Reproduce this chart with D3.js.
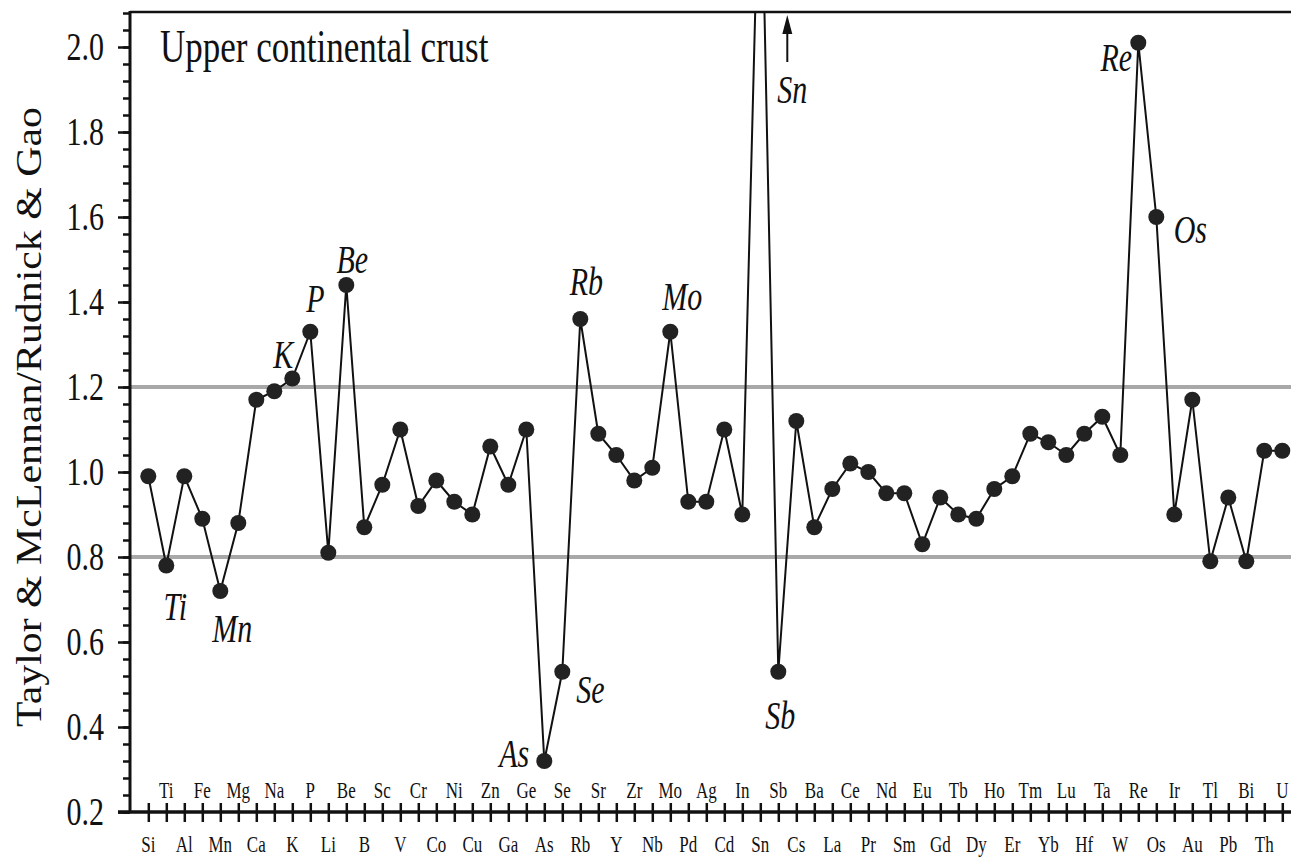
<!DOCTYPE html>
<html><head><meta charset="utf-8">
<script src="https://cdn.jsdelivr.net/npm/d3@7"></script>
<style>html,body{margin:0;padding:0;background:#fff;}svg{display:block;}</style>
</head><body>
<svg id="c" width="1291" height="862"></svg>
<script>
const elements = ["Si","Ti","Al","Fe","Mn","Mg","Ca","Na","K","P","Li","Be","B","Sc","V","Cr","Co","Ni","Cu","Zn","Ga","Ge","As","Se","Rb","Sr","Y","Zr","Nb","Mo","Pd","Ag","Cd","In","Sn","Sb","Cs","Ba","La","Ce","Pr","Nd","Sm","Eu","Gd","Tb","Dy","Ho","Er","Tm","Yb","Lu","Hf","Ta","W","Re","Os","Ir","Au","Tl","Pb","Bi","Th","U"];
const ratios = [0.99,0.78,0.99,0.89,0.72,0.88,1.17,1.19,1.22,1.33,0.81,1.44,0.87,0.97,1.10,0.92,0.98,0.93,0.90,1.06,0.97,1.10,0.32,0.53,1.36,1.09,1.04,0.98,1.01,1.33,0.93,0.93,1.10,0.90,2.55,0.53,1.12,0.87,0.96,1.02,1.00,0.95,0.95,0.83,0.94,0.90,0.89,0.96,0.99,1.09,1.07,1.04,1.09,1.13,1.04,2.01,1.60,0.90,1.17,0.79,0.94,0.79,1.05,1.05];
const yTicks = [0.2,0.4,0.6,0.8,1.0,1.2,1.4,1.6,1.8,2.0];
const refLines = [0.8,1.2];
const labeled = ["Ti","Mn","K","P","Be","As","Se","Rb","Mo","Sb","Re","Os"];
const labelDx = [9,12,-9,5,6,-30,28,6,12,2,-22,34];
const labelDy = [42,38,-23,-33,-25,-7,18,-37,-35,44,15,13];
const yTitle = "Taylor & McLennan/Rudnick & Gao";
const panelTitle = "Upper continental crust";

(function () {
const S = 1.3; // vertical stretch of glyphs in the reference
const font = "'Liberation Serif','Times New Roman',serif";
const svg = d3.select("#c");
const pLeft = 130, pRight = 1291, pTop = 12, pBottom = 812;
const x = d3.scalePoint().domain(elements).range([148.3, 1282.3]);
const y = d3.scaleLinear().domain([0.2, 2.0]).range([pBottom, 47]);
const yMax = y.invert(pTop);

function txt(g, tx, ty, s, size, anchor, italic) {
  return g.append("text")
    .attr("transform", `translate(${tx},${ty}) scale(1,${S})`)
    .attr("text-anchor", anchor || "middle")
    .attr("dominant-baseline", "central")
    .attr("font-family", font)
    .attr("font-size", size)
    .attr("font-style", italic ? "italic" : "normal")
    .attr("fill", "#111")
    .text(s);
}

svg.append("defs").append("clipPath").attr("id", "clip")
  .append("rect").attr("x", pLeft).attr("y", pTop).attr("width", pRight - pLeft).attr("height", pBottom - pTop);

svg.append("g").selectAll("line").data(refLines).join("line")
  .attr("x1", pLeft).attr("x2", pRight).attr("y1", d => y(d)).attr("y2", d => y(d))
  .attr("stroke", "#a8a8a8").attr("stroke-width", 4);

svg.append("line").attr("x1", pLeft).attr("x2", pRight).attr("y1", pTop).attr("y2", pTop)
  .attr("stroke", "#111").attr("stroke-width", 2.5);

const minor = d3.range(0.2, yMax + 1e-9, 0.04).map(v => +v.toFixed(2));
const gMinor = svg.append("g").attr("transform", `translate(${pLeft},0)`)
  .call(d3.axisLeft(y).tickValues(minor).tickSize(7).tickFormat(""));
gMinor.select(".domain").remove();
gMinor.selectAll("line").attr("stroke", "#111").attr("stroke-width", 2.5);
const gMajor = svg.append("g").attr("transform", `translate(${pLeft},0)`)
  .call(d3.axisLeft(y).tickValues(yTicks).tickSize(12).tickFormat(""));
gMajor.select(".domain").remove();
gMajor.selectAll("line").attr("stroke", "#111").attr("stroke-width", 2.5);
svg.append("line").attr("x1", pLeft).attr("x2", pLeft).attr("y1", pTop - 1).attr("y2", pBottom)
  .attr("stroke", "#111").attr("stroke-width", 3);
const gYLab = svg.append("g");
yTicks.forEach(v => txt(gYLab, 104, y(v), d3.format(".1f")(v), 30, "end"));

svg.append("text")
  .attr("transform", `translate(29,${(pTop + pBottom) / 2 + 5}) rotate(-90)`)
  .attr("text-anchor", "middle").attr("dominant-baseline", "central")
  .attr("font-family", font).attr("font-size", 35).attr("fill", "#111")
  .attr("textLength", 620).attr("lengthAdjust", "spacingAndGlyphs")
  .text(yTitle);

const gX = svg.append("g").attr("transform", `translate(0,${pBottom})`)
  .call(d3.axisBottom(x).tickSize(10).tickFormat(""));
gX.select(".domain").remove();
gX.selectAll(".tick line").attr("y1", -9).attr("stroke", "#111").attr("stroke-width", 2.5);
svg.append("line").attr("x1", 118).attr("x2", pRight).attr("y1", pBottom).attr("y2", pBottom)
  .attr("stroke", "#111").attr("stroke-width", 3.5);
const gXL = svg.append("g");
elements.forEach((e, i) => {
  txt(gXL, x(e), i % 2 === 0 ? pBottom + 32 : pBottom - 22, e, 17, "middle");
});

const data = elements.map((e, i) => ({e, v: ratios[i]}));
const plot = svg.append("g").attr("clip-path", "url(#clip)");
plot.append("path").datum(data)
  .attr("d", d3.line().x(d => x(d.e)).y(d => y(d.v)))
  .attr("fill", "none").attr("stroke", "#111").attr("stroke-width", 2);
plot.selectAll("circle").data(data).join("circle")
  .attr("cx", d => x(d.e)).attr("cy", d => y(d.v)).attr("r", 8)
  .attr("fill", "#222");

const gA = svg.append("g");
labeled.forEach((e, i) => {
  const v = ratios[elements.indexOf(e)];
  txt(gA, x(e) + labelDx[i], y(v) + labelDy[i], e, 30, "middle", true);
});
const sx = x("Sn");
gA.append("line").attr("x1", sx + 27).attr("x2", sx + 27).attr("y1", pTop + 50).attr("y2", pTop + 14)
  .attr("stroke", "#111").attr("stroke-width", 2);
gA.append("path").attr("d", `M${sx + 27},${pTop + 3} L${sx + 22},${pTop + 22} L${sx + 32},${pTop + 22} Z`).attr("fill", "#111");
txt(gA, sx + 32, pTop + 78, "Sn", 30, "middle", true);

txt(svg, pLeft + 30, 47, panelTitle, 35, "start");
})();
</script>
</body></html>
